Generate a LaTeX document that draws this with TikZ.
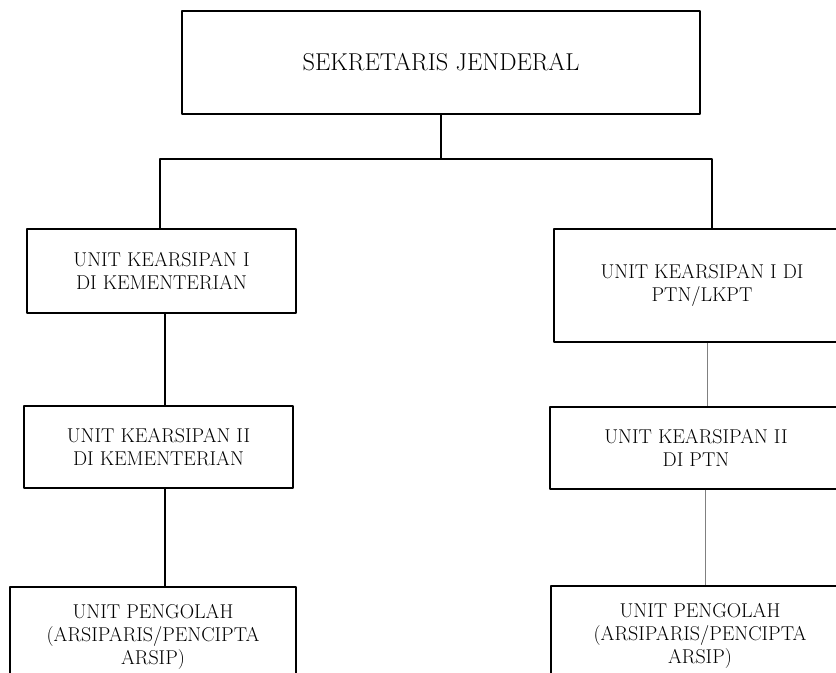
\documentclass[tikz,border=0pt]{standalone}
\begin{document}
\begin{tikzpicture}[x=0.75pt,y=-0.75pt,line join=round]
	\tikzset{every node/.style={draw,line width=1.4pt,align=center,font=\fontsize{15}{17}\selectfont},
		link/.style={line width=1.3pt},
		thinlink/.style={line width=0.6pt,gray}}
	\path[use as bounding box,clip] (0,0) rectangle (836,672);
	% kotak
	\node[minimum width=388.5pt,minimum height=77.25pt,font=\fontsize{18.3}{21}\selectfont] (sekjen) at (441,62.5) {SEKRETARIS JENDERAL};
	\node[minimum width=201.75pt,minimum height=63pt] (kemA) at (161.5,271) {UNIT KEARSIPAN I\\DI KEMENTERIAN};
	\node[minimum width=222pt,minimum height=84.75pt] (ptnA) at (702,285.5) {UNIT KEARSIPAN I DI\\PTN/LKPT};
	\node[minimum width=201.75pt,minimum height=61.5pt] (kemB) at (158.5,447) {UNIT KEARSIPAN II\\DI KEMENTERIAN};
	\node[minimum width=219pt,minimum height=61.5pt] (ptnB) at (696,448) {UNIT KEARSIPAN II\\DI PTN};
	\node[minimum width=214.5pt,minimum height=75pt] (kemC) at (153,637) {UNIT PENGOLAH\\(ARSIPARIS/PENCIPTA\\ARSIP)};
	\node[minimum width=223.5pt,minimum height=75pt] (ptnC) at (700,636) {UNIT PENGOLAH\\(ARSIPARIS/PENCIPTA\\ARSIP)};
	% garis
	\coordinate (cabang) at (441,159);
	\draw[link] (sekjen.south) -- (cabang);
	\draw[link] ([xshift=-1pt]kemA.north) |- (cabang) -| ([xshift=7.5pt]ptnA.north);
	\draw[link] ([xshift=2.5pt]kemA.south) -- ([xshift=2.5pt]kemA.south |- kemB.north);
	\draw[link] ([xshift=5pt]kemB.south) -- ([xshift=5pt]kemB.south |- kemC.north);
	\draw[thinlink] ([xshift=3.75pt]ptnA.south) -- ([xshift=3.75pt]ptnA.south |- ptnB.north);
	\draw[thinlink] ([xshift=6.75pt]ptnB.south) -- ([xshift=6.75pt]ptnB.south |- ptnC.north);
\end{tikzpicture}
\end{document}
